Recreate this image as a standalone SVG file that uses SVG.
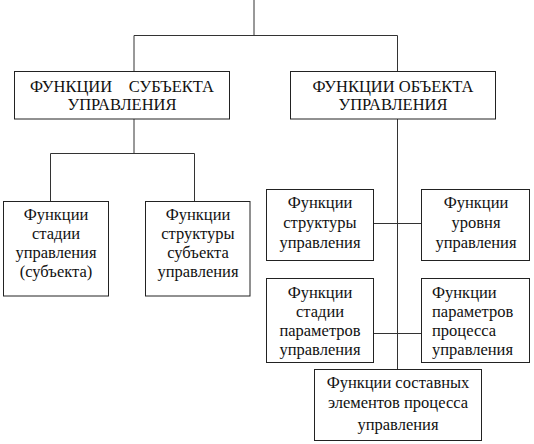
<svg xmlns="http://www.w3.org/2000/svg" width="534" height="444" viewBox="0 0 534 444" font-family="'Liberation Serif', 'Times New Roman', serif">
<style>
rect{fill:#fff;stroke:#222;stroke-width:1}
.c line{stroke:#333;stroke-width:1}
text{font-size:16.5px;fill:#111;text-anchor:middle;white-space:pre}
.l{text-anchor:start}
</style>
<rect x="0" y="0" width="534" height="444" style="stroke:none"/>
<g class="c" id="connectors">
<line x1="254" y1="0" x2="254" y2="35.5"/>
<line x1="134" y1="35.5" x2="397.5" y2="35.5"/>
<line x1="134" y1="35.5" x2="134" y2="71"/>
<line x1="397.5" y1="35.5" x2="397.5" y2="71"/>
<line x1="134" y1="119" x2="134" y2="153.5"/>
<line x1="50.5" y1="153.5" x2="194.5" y2="153.5"/>
<line x1="50.5" y1="153.5" x2="50.5" y2="201"/>
<line x1="194.5" y1="153.5" x2="194.5" y2="201"/>
<line x1="397.5" y1="119" x2="397.5" y2="369"/>
<line x1="373.5" y1="223.5" x2="421.5" y2="223.5"/>
<line x1="373.5" y1="333.5" x2="421.5" y2="333.5"/>
</g>
<g id="subj">
<rect x="14.5" y="71.5" width="215" height="47.5"/>
<text x="122" y="92" xml:space="preserve">ФУНКЦИИ    СУБЪЕКТА</text>
<text x="122" y="110">УПРАВЛЕНИЯ</text>
</g>
<g id="obj">
<rect x="290.5" y="71.5" width="205" height="47.5"/>
<text x="393" y="92">ФУНКЦИИ ОБЪЕКТА</text>
<text x="393" y="110">УПРАВЛЕНИЯ</text>
</g>
<g id="stage-subj">
<rect x="3.5" y="201.5" width="105" height="94.5"/>
<text x="56" y="220">Функции</text>
<text x="56" y="239">стадии</text>
<text x="56" y="258">управления</text>
<text x="56" y="277">(субъекта)</text>
</g>
<g id="struct-subj">
<rect x="145.5" y="201.5" width="104.5" height="94.5"/>
<text x="198" y="220">Функции</text>
<text x="198" y="239">структуры</text>
<text x="198" y="258">субъекта</text>
<text x="198" y="277">управления</text>
</g>
<g id="struct">
<rect x="266.5" y="189.5" width="107" height="71"/>
<text x="320" y="208">Функции</text>
<text x="320" y="228">структуры</text>
<text x="320" y="248">управления</text>
</g>
<g id="level">
<rect x="421.5" y="189.5" width="108" height="71"/>
<text x="476" y="208">Функции</text>
<text x="476" y="228">уровня</text>
<text x="476" y="248">управления</text>
</g>
<g id="stage-param">
<rect x="266.5" y="278.5" width="107" height="84"/>
<text x="320" y="298">Функции</text>
<text x="320" y="317">стадии</text>
<text x="320" y="336">параметров</text>
<text x="320" y="355">управления</text>
</g>
<g id="param-proc">
<rect x="421.5" y="278.5" width="108" height="84"/>
<text class="l" x="432" y="298">Функции</text>
<text class="l" x="432" y="317">параметров</text>
<text class="l" x="432" y="336">процесса</text>
<text class="l" x="432" y="355">управления</text>
</g>
<g id="elements">
<rect x="314.5" y="369.5" width="167" height="71"/>
<text x="398" y="388">Функции составных</text>
<text x="398" y="408">элементов процесса</text>
<text x="398" y="430">управления</text>
</g>
</svg>
